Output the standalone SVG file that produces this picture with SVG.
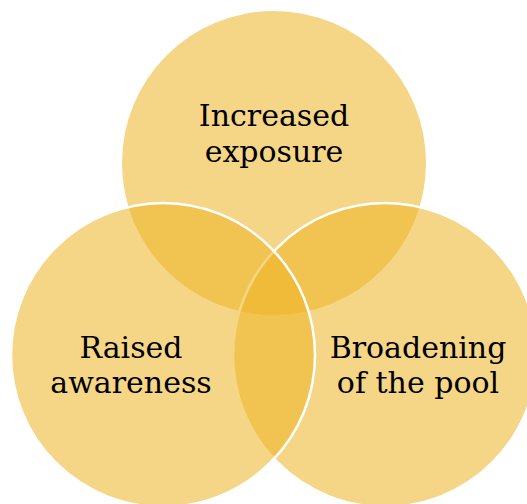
<svg xmlns="http://www.w3.org/2000/svg" width="527" height="504" viewBox="0 0 527 504">
  <style>
    .c { fill: #EDB425; fill-opacity: 0.55; }
    .s { stroke: #FFFFFF; stroke-width: 2.5; }
    .t { font-family: "DejaVu Serif", "Liberation Serif", serif; font-size: 30px; fill: #000000; text-anchor: middle; }
  </style>
  <rect width="527" height="504" fill="#FFFFFF"/>
  <g id="node-exposure">
    <circle class="c" cx="274" cy="163" r="152"/>
  </g>
  <g id="node-pool">
    <circle class="c s" cx="385" cy="355" r="152"/>
  </g>
  <g id="node-awareness">
    <circle class="c s" cx="163" cy="355" r="152"/>
  </g>
  <g id="connectors"></g>
  <g id="labels">
    <text class="t" x="274" y="126">Increased</text>
    <text class="t" x="274" y="162">exposure</text>
    <text class="t" x="131" y="358">Raised</text>
    <text class="t" x="131" y="393">awareness</text>
    <text class="t" x="418" y="358">Broadening</text>
    <text class="t" x="418" y="393">of the pool</text>
  </g>
</svg>
